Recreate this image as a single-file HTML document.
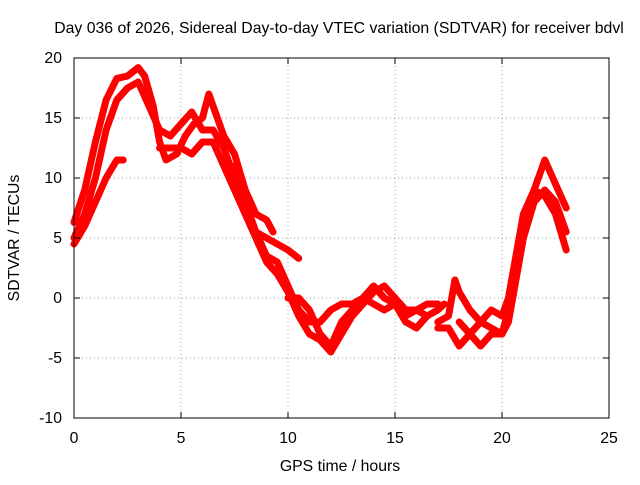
<!DOCTYPE html>
<html><head><meta charset="utf-8"><style>
body{margin:0;background:#fff;font-family:"Liberation Sans",sans-serif}
svg text{font-family:"Liberation Sans",sans-serif;font-size:15.8px;fill:#000}
</style></head><body>
<svg id="chart" width="640" height="480" viewBox="0 0 640 480">
<rect width="640" height="480" fill="#fff"/>
<text x="339" y="33" text-anchor="middle">Day 036 of 2026, Sidereal Day-to-day VTEC variation (SDTVAR) for receiver bdvl</text>
<g id="grid"></g>
<g id="series"></g>
<rect x="74" y="58" width="535" height="360" fill="none" stroke="#000" stroke-width="1"/>
<g id="ticks"></g>
<text x="340" y="471" text-anchor="middle">GPS time / hours</text>
<text transform="translate(19,238) rotate(-90)" text-anchor="middle">SDTVAR / TECUs</text>
</svg>
<script>
const xTicks=[0,5,10,15,20,25];
const yTicks=[-10,-5,0,5,10,15,20];
const arcA=[[0,6.3],[0.5,9],[1,13],[1.5,16.5],[2,18.3],[2.5,18.5],[3,19.2],[3.3,18.5],[3.7,16],[4,13],[4.3,11.5],[4.8,12],[5.2,13.5],[5.6,14.5],[6,15],[6.3,17],[6.7,15],[7,13.5],[7.5,12],[8,9],[8.5,7],[9,6.5],[9.3,5.5]];
const arcB=[[0,4.5],[0.5,6],[1,8],[1.5,10],[2,11.5],[2.3,11.5]];
const arcC=[[0,5],[0.5,7],[1,10],[1.5,14],[2,16.5],[2.5,17.5],[3,18],[3.5,16],[4,14],[4.5,13.5],[5,14.5],[5.5,15.5],[6,14],[6.5,14],[7,12.5],[7.5,10],[8,7.5],[8.5,5.5],[9,5],[9.5,4.5],[10,4],[10.5,3.3]];
const arcD=[[4,12.5],[4.5,12.5],[5,12.5],[5.5,12],[6,13],[6.5,13],[7,11],[7.5,9],[8,7],[8.5,5],[9,3],[9.5,2],[10,0.5],[10.5,-1.5],[11,-3],[11.5,-3.5],[12,-4.5],[12.5,-3],[13,-1.5],[13.5,-0.5],[14,0.5],[14.5,1],[15,0],[15.5,-1],[16,-1],[16.5,-0.5],[17,-0.5]];
const arcE=[[7.5,11],[8,8],[8.5,5.5],[9,3.5],[9.5,3],[10,1],[10.5,-1],[11,-2],[11.5,-2],[12,-1],[12.5,-0.5],[13,-0.5],[13.5,0],[14,-0.5],[14.5,-1],[15,-0.5],[15.5,-2],[16,-2.5],[16.5,-1.5],[17,-1],[17.3,-0.5]];
const arcF=[[10,0],[10.5,0],[11,-1],[11.5,-3],[12,-4],[12.5,-2],[13,-1],[13.5,0],[14,1],[14.5,0],[15,-0.5],[15.5,-1.5],[16,-1],[16.5,-1.5]];
const arcG=[[17,-2],[17.5,-1.5],[17.8,1.5],[18,0.5],[18.5,-1],[19,-2],[19.5,-2.5],[20,-3],[20.3,-1],[20.7,3],[21,6],[21.3,8],[21.7,10],[22,11.5],[22.5,9.5],[23,7.5]];
const arcH=[[17,-2.5],[17.5,-2.5],[18,-4],[18.5,-3],[19,-2],[19.5,-1],[20,-1.5],[20.3,0],[20.7,4],[21,7],[21.5,9],[22,8.5],[22.5,7],[23,4]];
const arcI=[[18,-2],[18.5,-3],[19,-4],[19.5,-3],[20,-3],[20.3,-2],[20.7,2],[21,5],[21.5,8],[22,9],[22.5,8],[23,5.5]];
const arcs=[arcA,arcB,arcC,arcD,arcE,arcF,arcG,arcH,arcI];
const NS="http://www.w3.org/2000/svg";
const X=v=>74+(v/25)*535, Y=v=>418-((v+10)/30)*360;
const grid=document.getElementById('grid'),ticks=document.getElementById('ticks'),ser=document.getElementById('series');
function mk(t,a,p){const e=document.createElementNS(NS,t);for(const k in a)e.setAttribute(k,a[k]);p.appendChild(e);return e;}
xTicks.forEach(v=>{
 if(v>0&&v<25){const g=mk('line',{x1:X(v),x2:X(v),y1:58,y2:418,stroke:'#a0a0a0','stroke-dasharray':'1,3'},grid);
 
 }
 const t=mk('text',{x:X(v),y:443,'text-anchor':'middle'},ticks);t.textContent=v;
 
 
 mk('line',{x1:X(v),x2:X(v),y1:418,y2:412,stroke:'#000'},ticks);
 mk('line',{x1:X(v),x2:X(v),y1:58,y2:64,stroke:'#000'},ticks);
});
yTicks.forEach(v=>{
 if(v>-10&&v<20){const g=mk('line',{x1:74,x2:609,y1:Y(v),y2:Y(v),stroke:'#a0a0a0','stroke-dasharray':'1,3'},grid);
 
 }
 const t=mk('text',{x:62,y:Y(v)+5,'text-anchor':'end'},ticks);t.textContent=v;
 
 
 mk('line',{x1:74,x2:80,y1:Y(v),y2:Y(v),stroke:'#000'},ticks);
 mk('line',{x1:609,x2:603,y1:Y(v),y2:Y(v),stroke:'#000'},ticks);
});
arcs.forEach((a,i)=>{
 const p=mk('polyline',{points:a.map(d=>X(d[0])+','+Y(d[1])).join(' '),fill:'none',stroke:'#ff0000','stroke-width':7,'stroke-linejoin':'round','stroke-linecap':'round'},ser);
 
 
});
</script>
</body></html>
